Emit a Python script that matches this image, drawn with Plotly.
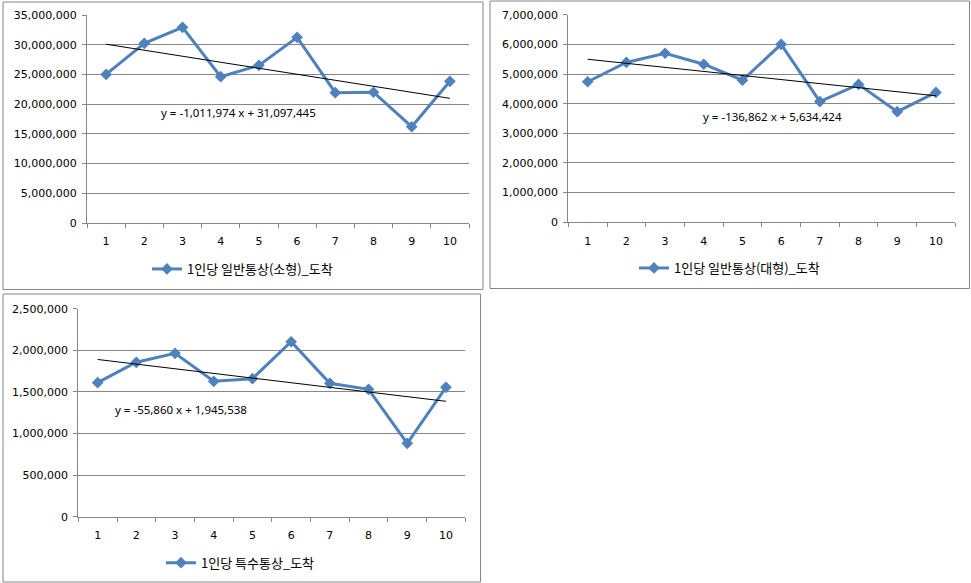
import plotly.graph_objects as go

W, H = 971, 583

categories = ["1", "2", "3", "4", "5", "6", "7", "8", "9", "10"]

small_name = "1인당 일반통상(소형)_도착"
small_vals = [25.0e6, 30.24e6, 32.93e6, 24.62e6, 26.53e6, 31.24e6, 21.93e6, 22.0e6, 16.2e6, 23.84e6]
small_slope, small_intercept = -1011974, 31097445
small_eq = "y = -1,011,974 x + 31,097,445"

large_name = "1인당 일반통상(대형)_도착"
large_vals = [4.74e6, 5.39e6, 5.70e6, 5.33e6, 4.79e6, 6.0e6, 4.07e6, 4.65e6, 3.73e6, 4.38e6]
large_slope, large_intercept = -136862, 5634424
large_eq = "y = -136,862 x + 5,634,424"

special_name = "1인당 특수통상_도착"
special_vals = [1.611e6, 1.856e6, 1.964e6, 1.627e6, 1.659e6, 2.103e6, 1.603e6, 1.531e6, 0.882e6, 1.555e6]
special_slope, special_intercept = -55860, 1945538
special_eq = "y = -55,860 x + 1,945,538"

BLUE = "#4F81BD"
GRAY = "#868686"

panels = [
    dict(name=small_name, vals=small_vals, slope=small_slope, icpt=small_intercept, eq=small_eq,
         plot=(87, 469, 15, 223), ymax=35e6, dtick=5e6, box=(3, 483, 2, 289.5),
         eqpos=(238.5, 112), legpos=(147, 269)),
    dict(name=large_name, vals=large_vals, slope=large_slope, icpt=large_intercept, eq=large_eq,
         plot=(568.3, 955.3, 14.7, 222.3), ymax=7e6, dtick=1e6, box=(490, 969.5, 1, 288.5),
         eqpos=(772, 116), legpos=(634, 268)),
    dict(name=special_name, vals=special_vals, slope=special_slope, icpt=special_intercept, eq=special_eq,
         plot=(78.3, 465.3, 308.7, 516.7), ymax=2.5e6, dtick=5e5, box=(3, 480.5, 294, 582),
         eqpos=(180.7, 409), legpos=(161, 562.7)),
]

fig = go.Figure()
layout = dict(width=W, height=H, margin=dict(l=0, r=0, t=0, b=0, autoexpand=False),
              paper_bgcolor="white", plot_bgcolor="white", shapes=[], annotations=[])

TICKFONT = dict(family="DejaVu Sans, Verdana, sans-serif", size=11, color="black")

for i, p in enumerate(panels, start=1):
    sfx = "" if i == 1 else str(i)
    xa, ya = "x" + sfx, "y" + sfx
    leg = "legend" + sfx
    fig.add_trace(go.Scatter(
        x=categories, y=p["vals"], mode="lines+markers", name=p["name"],
        line=dict(color=BLUE, width=3), marker=dict(symbol="diamond", size=9, color=BLUE),
        xaxis=xa, yaxis=ya, legend=leg, showlegend=True))
    xs = [int(categories[0]), int(categories[-1])]
    fig.add_trace(go.Scatter(
        x=[categories[0], categories[-1]], y=[p["slope"] * v + p["icpt"] for v in xs],
        mode="lines", line=dict(color="black", width=1), showlegend=False,
        hoverinfo="skip", xaxis=xa, yaxis=ya))
    x0, x1, y0, y1 = p["plot"]
    layout["xaxis" + sfx] = dict(
        domain=[x0 / W, x1 / W], anchor=ya, type="category", tickson="boundaries",
        ticks="outside", ticklen=4, tickcolor=GRAY, showline=True, linecolor=GRAY,
        linewidth=1, showgrid=False, tickfont=TICKFONT, ticklabelstandoff=8,
        range=[-0.5, 9.5], fixedrange=True, automargin=False)
    layout["yaxis" + sfx] = dict(
        domain=[1 - y1 / H, 1 - y0 / H], anchor=xa, range=[0, p["ymax"]], dtick=p["dtick"],
        tick0=0, tickformat=",d", ticks="outside", ticklen=4, tickcolor=GRAY,
        showline=True, linecolor=GRAY, linewidth=1, showgrid=True, gridcolor=GRAY,
        gridwidth=1, zeroline=False, tickfont=TICKFONT, ticklabelstandoff=3,
        fixedrange=True, automargin=False)
    bx0, bx1, by0, by1 = p["box"]
    layout["shapes"].append(dict(type="rect", xref="paper", yref="paper",
                                 x0=bx0 / W, x1=bx1 / W, y0=1 - by1 / H, y1=1 - by0 / H,
                                 line=dict(color=GRAY, width=1), fillcolor="rgba(0,0,0,0)"))
    ex, ey = p["eqpos"]
    layout["annotations"].append(dict(text=p["eq"], xref="paper", yref="paper",
                                      x=ex / W, y=1 - ey / H, xanchor="center", yanchor="middle",
                                      showarrow=False,
                                      font=dict(family="Noto Sans", size=11.5, color="black")))
    lx, ly = p["legpos"]
    layout[leg] = dict(x=lx / W, y=1 - ly / H, xanchor="left", yanchor="middle",
                       xref="paper", yref="paper", bgcolor="rgba(0,0,0,0)",
                       font=dict(family="Noto Sans CJK KR", size=13, color="black"),
                       itemwidth=30, tracegroupgap=0)

fig.update_layout(**layout)
fig.write_html("out.html")
